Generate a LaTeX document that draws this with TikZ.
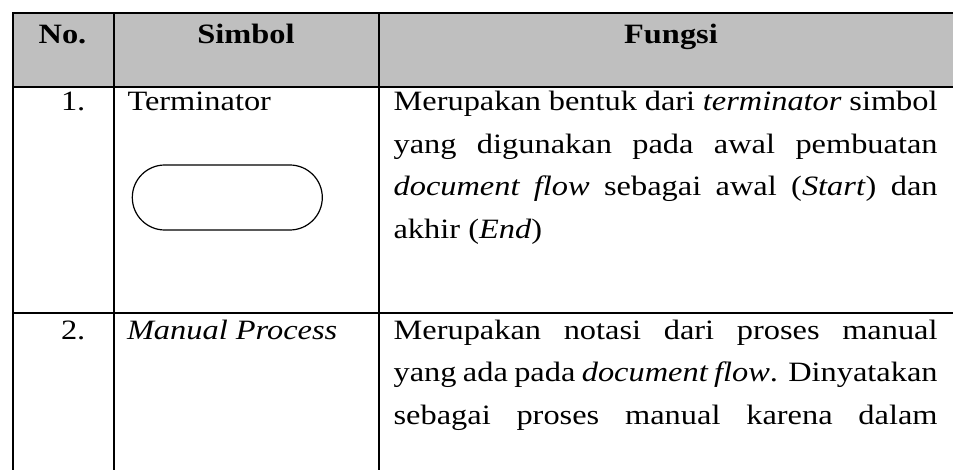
\documentclass[tikz,border=0pt]{standalone}
\usepackage{fontspec}
\setmainfont{Liberation Serif}[FakeStretch=1.157]
\definecolor{hdrgray}{RGB}{191,191,191}
\tikzset{
  rule/.style={line width=2pt, line cap=rect},
  txt/.style={inner sep=0pt, outer sep=0pt, anchor=base west, font=\fontsize{28}{42.4}\selectfont},
  hdr/.style={inner sep=0pt, outer sep=0pt, anchor=base, font=\fontsize{28}{42.4}\selectfont\bfseries},
  termshape/.style={draw, line width=1.2pt, rounded corners=32.5pt}
}
\newcommand{\jline}[1]{\makebox[544pt][s]{#1}}
\begin{document}
\begin{tikzpicture}[x=1pt,y=-1pt]
  \useasboundingbox (0,0) rectangle (953,470);
  \clip (0,0) rectangle (953,470);
  % header fill
  \fill[hdrgray] (13,13) rectangle (970,87);
  % rules
  \draw[rule] (13,13) -- (970,13);
  \draw[rule] (13,87) -- (970,87);
  \draw[rule] (13,312.7) -- (970,312.7);
  \draw[rule] (13,13) -- (13,480);
  \draw[rule] (114,13) -- (114,480);
  \draw[rule] (379,13) -- (379,480);
  % header
  \node[hdr] (hno) at (62.5,44) {No.};
  \node[hdr] (hsim) at (246,44) {Simbol};
  \node[hdr] (hfun) at (671,44) {Fungsi};
  % row 1
  \node[txt] (n1) at (61,111) {1.};
  \node[txt] (s1) at (127.5,111) {Terminator};
  \draw[termshape] (132.3,165) rectangle (322.3,230);
  \node[txt] (f1a) at (393.6,111) {\jline{Merupakan bentuk dari \textit{terminator} simbol}};
  \node[txt] (f1b) at (393.6,153.4) {\jline{yang digunakan pada awal pembuatan}};
  \node[txt] (f1c) at (393.6,195.8) {\jline{\textit{document flow} sebagai awal (\textit{Start}) dan}};
  \node[txt] (f1d) at (393.6,238.2) {akhir (\textit{End})};
  % row 2
  \node[txt] (n2) at (61,339.3) {2.};
  \node[txt] (s2) at (127,339.3) {\textit{Manual Process}};
  \node[txt] (f2a) at (393.6,339.3) {\jline{Merupakan notasi dari proses manual}};
  \node[txt] (f2b) at (393.6,381.7) {\jline{yang ada pada \textit{document flow}. Dinyatakan}};
  \node[txt] (f2c) at (393.6,424.1) {\jline{sebagai proses manual karena dalam}};
\end{tikzpicture}
\end{document}
